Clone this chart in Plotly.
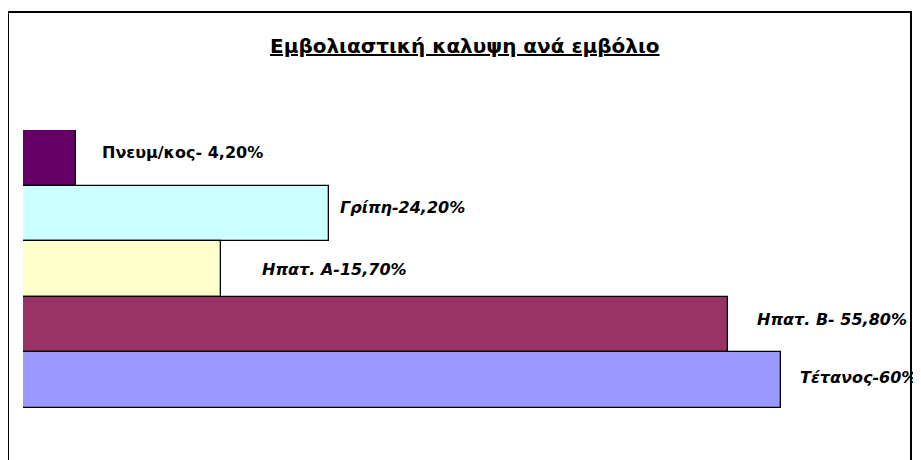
import plotly.graph_objects as go

# Data
categories = ["Πνευμ/κος", "Γρίπη", "Ηπατ. Α", "Ηπατ. Β", "Τέτανος"]
values = [4.2, 24.2, 15.7, 55.8, 60.0]
labels = ["Πνευμ/κος- 4,20%", "Γρίπη-24,20%", "Ηπατ. Α-15,70%", "Ηπατ. Β- 55,80%", "Τέτανος-60%"]
colors = ["#660066", "#CCFFFF", "#FFFFCC", "#993366", "#9999FF"]
title_text = "Εμβολιαστική καλυψη ανά εμβόλιο"

# The page body adds an 8px margin; lay out in screen pixels and shift.
OFF = 8
SW, SH = 921, 460
W, H = SW - OFF, SH - OFF
plot_left, plot_right, plot_top, plot_bottom = 23, 900, 130, 408  # screen px
L = plot_left - OFF
T = plot_top - OFF
R = W - (plot_right - OFF)
B = H - (plot_bottom - OFF)
pw, ph = W - L - R, H - T - B
px_per_unit = 758 / 60.0
xmax = pw / px_per_unit

label_dx = [24, 9, 39, 27, 17]
label_dy = [5, 6, 0, 5, 3]
label_italic = [False, True, True, True, True]

FONT = "DejaVu Sans, Liberation Sans, Arial, sans-serif"

fig = go.Figure(go.Bar(
    x=values, y=categories, orientation="h",
    marker=dict(color=colors, line=dict(color="#000000", width=1.3)),
    hoverinfo="skip",
))

annotations = []
for c, v, t, dx, dy, it in zip(categories, values, labels, label_dx, label_dy, label_italic):
    txt = f"<b><i>{t}</i></b>" if it else f"<b>{t}</b>"
    annotations.append(dict(
        x=v, y=c, xref="x", yref="y", text=txt, showarrow=False,
        xanchor="left", yanchor="middle", xshift=dx, yshift=dy,
        font=dict(family=FONT, size=16, color="#000000"),
    ))

def px2paper_x(px):
    return (px - OFF - L) / pw

def px2paper_y(py):
    return (H - B - (py - OFF)) / ph

annotations.append(dict(
    x=px2paper_x(464.5), y=px2paper_y(46), xref="paper", yref="paper",
    text=f"<b><u>{title_text}</u></b>", showarrow=False,
    xanchor="center", yanchor="middle",
    font=dict(family=FONT, size=20, color="#000000"),
))

shapes = [dict(
    type="rect", xref="paper", yref="paper",
    x0=px2paper_x(8), x1=px2paper_x(911), y0=px2paper_y(475), y1=px2paper_y(12),
    line=dict(color="#000000", width=2), fillcolor="rgba(0,0,0,0)", layer="above",
)]

fig.update_layout(
    width=W, height=H,
    margin=dict(l=L, r=R, t=T, b=B, pad=0),
    paper_bgcolor="#FFFFFF", plot_bgcolor="#FFFFFF",
    bargap=0, showlegend=False,
    xaxis=dict(range=[0, xmax], visible=False, fixedrange=True),
    yaxis=dict(autorange="reversed", visible=False, fixedrange=True),
    annotations=annotations, shapes=shapes,
)

fig.write_html("out.html", config={"displayModeBar": False})
